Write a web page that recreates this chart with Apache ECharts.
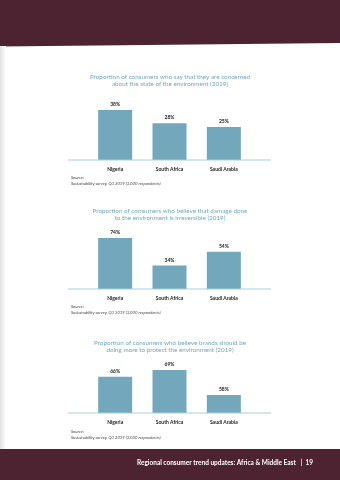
<!DOCTYPE html>
<html><head><meta charset="utf-8">
<script src="https://cdn.jsdelivr.net/npm/echarts@6/dist/echarts.min.js"></script>
<style>html,body{margin:0;padding:0;background:#fff}#c{width:340px;height:480px}</style>
</head><body><div id="c"></div>
<script>
var categories = ['Nigeria', 'South Africa', 'Saudi Arabia'];
var concerned = [38, 28, 25];
var irreversible = [74, 34, 54];
var brandsShould = [66, 69, 58];
var titles = [
  'Proportion of consumers who say that they are concerned\nabout the state of the environment (2019)',
  'Proportion of consumers who believe that damage done\nto the environment is irreversible (2019)',
  'Proportion of consumers who believe brands should be\ndoing more to protect the environment (2019)'
];
var sourceText = 'Source:\nSustainability survey, Q3 2019 (3,000 respondents)';
var footer = 'Regional consumer trend updates: Africa & Middle East   |  19';

var maroon = '#4d2331', barColor = '#73a7bc', axisColor = '#a8cfdc', titleColor = '#74a8bd';
var FONT = 'Lato, "DejaVu Sans", sans-serif';

var grids = [
  {left: 88, right: 89, top: 110, height: 50},
  {left: 88, right: 89, top: 238, height: 51},
  {left: 88, right: 89, top: 370, height: 43}
];
var yRanges = [[0, 38], [0, 74], [50, 69]];
var datas = [concerned, irreversible, brandsShould];
var titleTops = [68, 202, 334];
var sourceTops = [175, 304, 429];

var option = {
  animation: false,
  backgroundColor: '#fff',
  title: titles.map(function (t, i) {
    return {text: t, left: 'center', top: titleTops[i],
      textStyle: {color: titleColor, fontSize: 6.3, fontWeight: 'normal', fontFamily: FONT, lineHeight: 7.5}};
  }),
  grid: grids,
  xAxis: grids.map(function (g, i) {
    return {type: 'category', gridIndex: i, data: categories,
      axisLine: {show: false}, axisTick: {show: false},
      axisLabel: {color: '#222', fontSize: 5, fontWeight: 'bold', fontFamily: FONT, margin: 7}};
  }),
  yAxis: grids.map(function (g, i) {
    return {type: 'value', gridIndex: i, min: yRanges[i][0], max: yRanges[i][1], show: false, splitLine: {show: false}};
  }),
  series: datas.map(function (d, i) {
    return {type: 'bar', xAxisIndex: i, yAxisIndex: i, data: d, barWidth: 34,
      itemStyle: {color: barColor},
      label: {show: true, position: 'top', distance: 3, formatter: '{c}%', color: '#222', fontSize: 5, fontWeight: 'bold', fontFamily: FONT}};
  }),
  graphic: [
    {type: 'polygon', shape: {points: [[0, 0], [340, 0], [340, 43], [0, 46.5]]}, style: {fill: maroon}, z: 0},
    {type: 'rect', shape: {x: 0, y: 449, width: 340, height: 31}, style: {fill: maroon}, z: 0},
    {type: 'rect', shape: {x: 0, y: 46, width: 6, height: 403}, z: 0,
      style: {fill: new echarts.graphic.LinearGradient(0, 0, 1, 0, [{offset: 0, color: '#e2e2e2'}, {offset: 1, color: '#ffffff'}])}},
    {type: 'line', shape: {x1: 68, y1: 160, x2: 271, y2: 160}, style: {stroke: axisColor, lineWidth: 1}, z: 10},
    {type: 'line', shape: {x1: 68, y1: 289, x2: 271, y2: 289}, style: {stroke: axisColor, lineWidth: 1}, z: 10},
    {type: 'line', shape: {x1: 68, y1: 413, x2: 271, y2: 413}, style: {stroke: axisColor, lineWidth: 1}, z: 10}
  ].concat(sourceTops.map(function (t) {
    return {type: 'text', left: 71, top: t, style: {text: sourceText, fill: '#444', fontSize: 4.2, fontStyle: 'italic', fontFamily: FONT, lineHeight: 5.5}};
  })).concat([
    {type: 'text', right: 27, top: 459, style: {text: footer, fill: '#fff', fontSize: 6.5, fontWeight: 'bold', fontFamily: FONT}}
  ])
};
echarts.init(document.getElementById('c')).setOption(option);
</script></body></html>
